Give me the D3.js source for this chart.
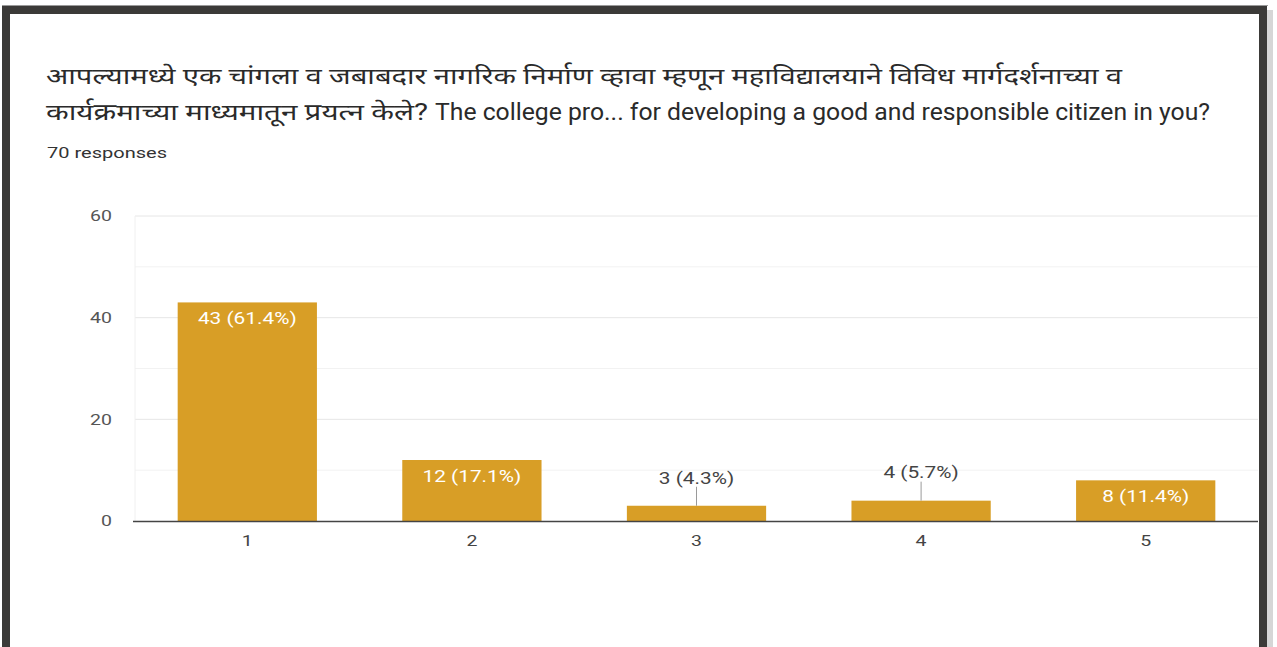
<!DOCTYPE html>
<html>
<head>
<meta charset="utf-8">
<script src="https://cdn.jsdelivr.net/npm/d3@7"></script>
<style>
  html, body { margin: 0; padding: 0; background: #ffffff; }
  svg { display: block; }
</style>
</head>
<body>
<svg id="chart" width="1277" height="647"></svg>
<script>
const titleLine1 = "आपल्यामध्ये एक चांगला व जबाबदार नागरिक निर्माण व्हावा म्हणून महाविद्यालयाने विविध मार्गदर्शनाच्या व";
const titleLine2a = "कार्यक्रमाच्या माध्यमातून प्रयत्न केले?";
const titleLine2b = "The college pro... for developing a good and responsible citizen in you?";
const subtitle = "70 responses";
const categories = ["1", "2", "3", "4", "5"];
const counts = [43, 12, 3, 4, 8];
const percents = ["61.4%", "17.1%", "4.3%", "5.7%", "11.4%"];
const yTicks = [0, 20, 40, 60];
const yMinorTicks = [10, 30, 50];

const svg = d3.select("#chart");
const W = 1277, H = 647;
const STRETCH = 1.3;
function stretch(sel, k) {
  sel.each(function () {
    const w = this.getComputedTextLength();
    d3.select(this).attr("textLength", w * k).attr("lengthAdjust", "spacingAndGlyphs");
  });
}

// frame
svg.append("rect").attr("x", 0).attr("y", 0).attr("width", W).attr("height", H).attr("fill", "#ffffff");
svg.append("rect").attr("x", 2).attr("y", 5).attr("width", 1266).attr("height", 1).attr("fill", "#9a9a9a");
svg.append("rect").attr("x", 1267).attr("y", 10).attr("width", 6).attr("height", H).attr("fill", "#d6d6d6");
svg.append("path")
  .attr("d", "M6,647 V10 H1263 V647")
  .attr("fill", "none").attr("stroke", "#3b3a38").attr("stroke-width", 8);

const font = "Roboto, 'Noto Sans', sans-serif";

// title
const tg = svg.append("g").attr("font-family", font).attr("fill", "#2a2a2a");
const titleParts = [
  { text: titleLine1, x: 46, y: 84, w: 1076 },
  { text: titleLine2a, x: 46, y: 120, w: 382 },
  { text: titleLine2b, x: 435, y: 120, w: 775 }
];
tg.selectAll("text.title").data(titleParts).join("text")
  .attr("class", "title")
  .attr("x", d => d.x)
  .attr("y", d => d.y)
  .attr("font-size", 23)
  .attr("textLength", d => d.w)
  .attr("lengthAdjust", "spacingAndGlyphs")
  .text(d => d.text);
tg.append("text")
  .attr("x", 47).attr("y", 158)
  .attr("font-size", 15.5)
  .attr("fill", "#333333")
  .attr("textLength", 120).attr("lengthAdjust", "spacingAndGlyphs")
  .text(subtitle);

// scales
const y = d3.scaleLinear().domain([0, 60]).range([521, 216]);
const x = d3.scaleBand().domain(categories).range([135, 1258]).paddingInner(0.38).paddingOuter(0.19);

// gridlines
svg.append("g").selectAll("line").data(yMinorTicks).join("line")
  .attr("x1", 135).attr("x2", 1258)
  .attr("y1", d => y(d)).attr("y2", d => y(d))
  .attr("stroke", "#f2f2f2").attr("stroke-width", 1);
svg.append("g").selectAll("line").data(yTicks.filter(d => d !== 0)).join("line")
  .attr("x1", 135).attr("x2", 1258)
  .attr("y1", d => y(d)).attr("y2", d => y(d))
  .attr("stroke", "#e6e6e6").attr("stroke-width", 1);
svg.append("line")
  .attr("x1", 135).attr("x2", 135).attr("y1", y(60)).attr("y2", y(0))
  .attr("stroke", "#f0f0f0");

// y axis
const yAxis = d3.axisLeft(y).tickValues(yTicks).tickSize(0).tickPadding(0);
const yg = svg.append("g").attr("transform", "translate(112,0)").call(yAxis);
yg.select(".domain").remove();
yg.selectAll("text").attr("font-family", font).attr("font-size", 15).attr("fill", "#555555");
stretch(yg.selectAll("text"), STRETCH);

// bars
svg.append("g").selectAll("rect").data(counts).join("rect")
  .attr("x", (d, i) => x(categories[i]))
  .attr("y", d => y(d))
  .attr("width", x.bandwidth())
  .attr("height", d => y(0) - y(d))
  .attr("fill", "#d89e26");

// baseline
svg.append("line")
  .attr("x1", 133).attr("x2", 1258).attr("y1", y(0) + 0.5).attr("y2", y(0) + 0.5)
  .attr("stroke", "#444444").attr("stroke-width", 1.5);

// x axis
const xAxis = d3.axisBottom(x).tickSize(0).tickPadding(0);
const xg = svg.append("g").attr("transform", `translate(0,${y(0) + 14})`).call(xAxis);
xg.select(".domain").remove();
xg.selectAll("text").attr("font-family", font).attr("font-size", 15).attr("fill", "#444444").attr("dy", "0.75em");
stretch(xg.selectAll("text"), STRETCH);

// value labels
const lg = svg.append("g");
counts.forEach((c, i) => {
  const cx = x(categories[i]) + x.bandwidth() / 2;
  const top = y(c);
  const inside = (y(0) - top) > 25;
  const label = `${c} (${percents[i]})`;
  let t;
  if (inside) {
    t = lg.append("text")
      .attr("x", cx).attr("y", top + 16).attr("dy", "0.36em")
      .attr("text-anchor", "middle")
      .attr("font-family", font).attr("font-size", 16)
      .attr("fill", "#ffffff")
      .text(label);
  } else {
    lg.append("line")
      .attr("x1", cx).attr("x2", cx).attr("y1", top - 19).attr("y2", top)
      .attr("stroke", "#9a9a9a").attr("stroke-width", 1);
    t = lg.append("text")
      .attr("x", cx).attr("y", top - 28).attr("dy", "0.36em")
      .attr("text-anchor", "middle")
      .attr("font-family", font).attr("font-size", 16)
      .attr("fill", "#444444")
      .text(label);
  }
  stretch(t, STRETCH);
});
</script>
</body>
</html>
